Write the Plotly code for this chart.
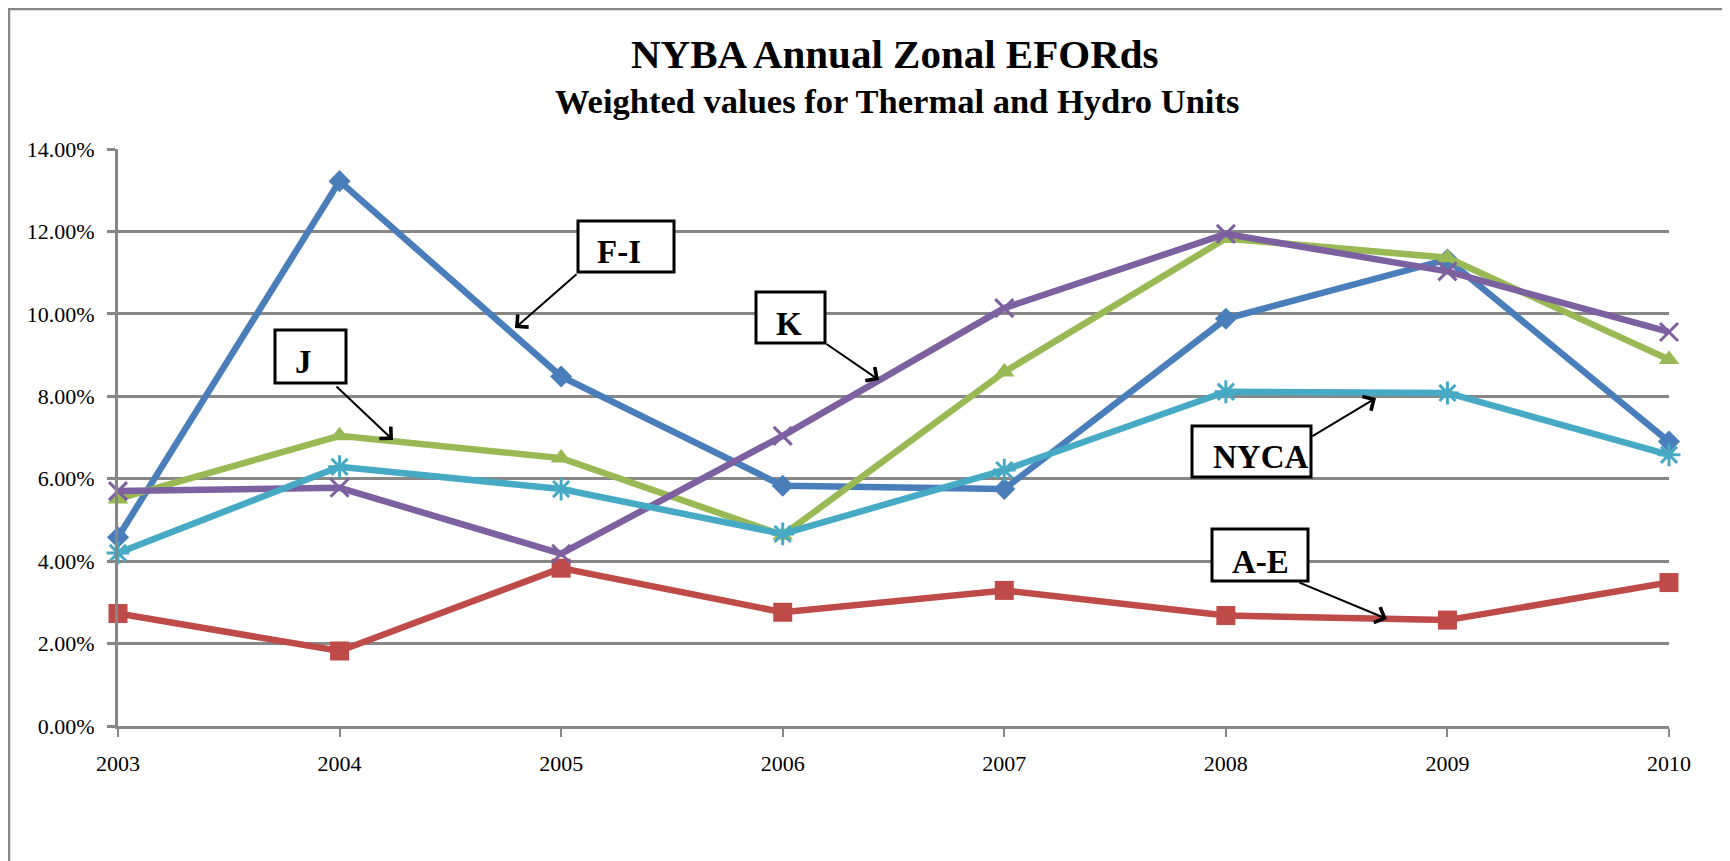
import plotly.graph_objects as go

# ---------------- data ----------------
years = [2003, 2004, 2005, 2006, 2007, 2008, 2009, 2010]
year_labels = ["2003", "2004", "2005", "2006", "2007", "2008", "2009", "2010"]

fi_vals   = [0.0458, 0.1322, 0.0848, 0.0583, 0.0575, 0.0988, 0.1132, 0.0690]
ae_vals   = [0.0273, 0.0182, 0.0383, 0.0276, 0.0329, 0.0268, 0.0257, 0.0348]
j_vals    = [0.0551, 0.0704, 0.0650, 0.0463, 0.0859, 0.1183, 0.1136, 0.0889]
k_vals    = [0.0570, 0.0578, 0.0418, 0.0704, 0.1014, 0.1194, 0.1103, 0.0956]
nyca_vals = [0.0420, 0.0629, 0.0575, 0.0466, 0.0621, 0.0811, 0.0808, 0.0658]

y_ticks = [0, 0.02, 0.04, 0.06, 0.08, 0.10, 0.12, 0.14]

title_text = "NYBA Annual Zonal EFORds"
subtitle_text = "Weighted values for Thermal and Hydro Units"

# ---------------- layout geometry (page pixels) ----------------
OFF = 8  # default page body margin
W, H = 1730 - OFF, 861 - OFF
L, R, T, B = 118, 1669, 149, 726   # plot area in page pixels
PW, PH = R - L, B - T


def px(xp):
    return (xp - L) / PW


def py(yp):
    return (B - yp) / PH


FONT = "Liberation Serif, Times New Roman, serif"

series = [
    ("F-I", fi_vals, "#4A7EBB", dict(symbol="diamond", size=17)),
    ("A-E", ae_vals, "#BE4B48", dict(symbol="square", size=19)),
    ("J", j_vals, "#98B954", dict(symbol="triangle-up", size=18)),
    ("K", k_vals, "#7D60A0", dict(symbol="x-thin-open", size=18, line=dict(width=3))),
    ("NYCA", nyca_vals, "#46AAC5", dict(symbol="asterisk-open", size=19, line=dict(width=3))),
]

fig = go.Figure()
for name, vals, color, mk in series:
    marker = dict(color=color, **mk)
    if "line" in marker:
        marker["line"] = dict(color=color, width=mk["line"]["width"])
    fig.add_trace(go.Scatter(
        x=years, y=vals, name=name, mode="lines+markers",
        line=dict(color=color, width=6.5), marker=marker, cliponaxis=False,
    ))

GRID = "#878787"
fig.update_layout(
    width=W, height=H,
    margin=dict(l=L - OFF, r=1730 - R, t=T - OFF, b=861 - B, autoexpand=False),
    paper_bgcolor="white", plot_bgcolor="white",
    showlegend=False,
    font=dict(family=FONT, color="black", size=22),
)
fig.update_xaxes(
    range=[2003, 2010], tickvals=years, ticktext=year_labels,
    showgrid=False, zeroline=False,
    showline=True, linecolor=GRID, linewidth=3,
    ticks="outside", ticklen=8, tickwidth=2, tickcolor=GRID,
    tickfont=dict(family=FONT, size=22, color="black"),
    ticklabelstandoff=8,
)
fig.update_yaxes(
    range=[0, 0.14], tickvals=y_ticks, tickformat=".2%",
    showgrid=True, gridcolor=GRID, gridwidth=3, zeroline=False,
    showline=True, linecolor=GRID, linewidth=3,
    ticks="outside", ticklen=8, tickwidth=3, tickcolor=GRID,
    tickfont=dict(family=FONT, size=22, color="black"),
    ticklabelstandoff=8,
)

shapes = []
# outer chart border (left/top visible)
shapes.append(dict(type="rect", xref="paper", yref="paper",
                   x0=px(9), x1=px(1900), y0=py(9), y1=py(1000),
                   line=dict(color=GRID, width=2.5), fillcolor="rgba(0,0,0,0)", layer="below"))

annotations = [
    dict(text="<b>" + title_text + "</b>", x=px(895), y=py(54), xref="paper", yref="paper",
         showarrow=False, xanchor="center", yanchor="middle",
         font=dict(family=FONT, size=41, color="black")),
    dict(text="<b>" + subtitle_text + "</b>", x=px(897), y=py(101), xref="paper", yref="paper",
         showarrow=False, xanchor="center", yanchor="middle",
         font=dict(family=FONT, size=34.5, color="black")),
]

# label boxes: (text, box x0, x1, y0, y1, text center x, cap center y)
boxes = [
    ("F-I", 578, 674, 221, 272, 619, 252),
    ("J", 275, 346, 330, 383, 303, 362),
    ("K", 756, 825, 292, 343, 789, 324),
    ("NYCA", 1192, 1311, 426, 477, 1260, 457),
    ("A-E", 1212, 1308, 529, 581, 1260, 562),
]
for txt, x0, x1, y0, y1, tx, ty in boxes:
    shapes.append(dict(type="rect", xref="paper", yref="paper",
                       x0=px(x0), x1=px(x1), y0=py(y1), y1=py(y0),
                       line=dict(color="black", width=3), fillcolor="white", layer="above"))
    annotations.append(dict(text="<b>" + txt + "</b>", x=px(tx), y=py(ty), xref="paper", yref="paper",
                            showarrow=False, xanchor="center", yanchor="middle",
                            font=dict(family=FONT, size=33, color="black")))

# arrows: head (x, y), tail (x, y) in page pixels
arrows = [
    ((515, 328), (578, 273)),
    ((393, 440), (335, 385)),
    ((879, 380), (825, 343)),
    ((1376, 398), (1311, 437)),
    ((1387, 619), (1298, 582)),
]
for (hx, hy), (tx, ty) in arrows:
    annotations.append(dict(text=" ", x=px(hx), y=py(hy), xref="paper", yref="paper",
                            ax=tx - hx, ay=ty - hy, showarrow=True,
                            arrowhead=4, arrowsize=1.6, arrowwidth=2, arrowcolor="black",
                            font=dict(size=1), standoff=0, startstandoff=0))

fig.update_layout(shapes=shapes, annotations=annotations)
fig.write_html("out.html")
